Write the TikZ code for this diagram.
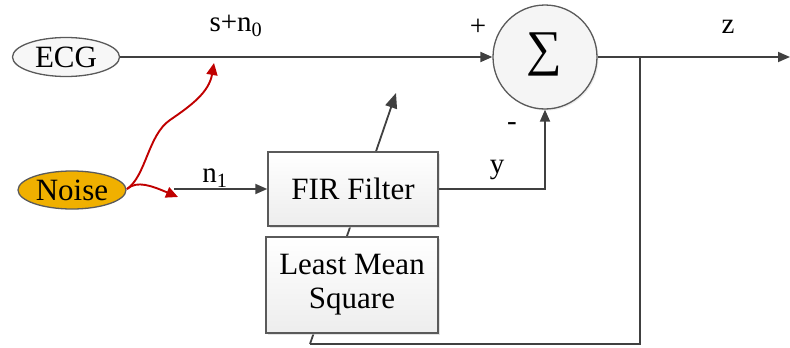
\documentclass[tikz,border=0pt]{standalone}
\usepackage{fontspec}
\setmainfont{Liberation Serif}
\usetikzlibrary{arrows.meta,shapes.geometric,shadows}
\definecolor{lc}{HTML}{404040}
\definecolor{bd}{HTML}{5A5A5A}
\definecolor{redc}{HTML}{C00000}
\definecolor{noisec}{HTML}{F0B000}
\begin{document}
\begin{tikzpicture}[x=1pt,y=-1pt,
  conn/.style={draw=lc,line width=1.8pt,-{Triangle[length=12pt,width=10pt]}},
  plain/.style={draw=lc,line width=1.8pt},
  redarr/.style={draw=redc,line width=1.9pt,-{Triangle[length=12pt,width=11pt]}},
  blk/.style={draw=bd,line width=1.4pt,top color=white,bottom color=gray!14,
     drop shadow={shadow xshift=2pt,shadow yshift=-2pt,fill=gray!35,opacity=0.6},
     font=\fontsize{31}{36}\selectfont,align=center,inner sep=0pt},
  ell/.style={ellipse,draw=bd,line width=1.3pt,inner sep=0pt,
     font=\fontsize{31}{36}\selectfont},
  lab/.style={font=\fontsize{29}{32}\selectfont,inner sep=0pt}]
\useasboundingbox (0,0) rectangle (790,348);
% feedback / adaptation line (behind boxes)
\coordinate (j) at (640,57);
\coordinate (fb) at (310,344);
\coordinate (adapt) at (396,93);
\draw[plain] (j) |- (fb);
\draw[conn,-{Triangle[length=15pt,width=12pt]}] (fb) -- (adapt);
% nodes
\node[ell,fill=gray!6,minimum width=107pt,minimum height=39pt] (ecg) at (66,57) {ECG};
\node[ell,fill=noisec,minimum width=108pt,minimum height=38pt] (noise) at (72,190) {Noise};
\node[circle,draw=bd,line width=1.3pt,fill=gray!8,minimum size=104pt,inner sep=0pt,
   drop shadow={shadow xshift=1.5pt,shadow yshift=-1.5pt,fill=gray!30,opacity=0.5}] (sum) at (545,57) {};
\node[inner sep=0pt,font=\fontsize{50}{54}\selectfont] (sig) at (544,54) {∑};
\node[blk,minimum width=170pt,minimum height=74pt] (fir) at (353,189) {FIR Filter};
\node[blk,minimum width=172pt,minimum height=96pt] (lms) at (352,285) {Least Mean\\[-2pt]Square};
% connectors
\draw[conn] (ecg.east) -- (sum.west);
\coordinate (out) at (790,57);
\draw[conn] (sum.east) -- (out);
\draw[conn] (fir.east) -| (sum.south);
\coordinate (n1s) at (174,189);
\draw[conn] (n1s) -- (fir.west);
% red noise arrows
\coordinate (nsrc) at (127,189);
\coordinate (sn) at (214,63);
\coordinate (nn) at (178,197);
\draw[redarr] (nsrc) .. controls (146,176) and (148,135) .. (170,120)
   .. controls (192,105) and (209,92) .. (sn);
\draw[redarr] (nsrc) .. controls (137,180) and (152,186) .. (nn);
% labels
\node[lab] (l1) at (236,26) {s+n\textsubscript{0}};
\node[lab] (l2) at (478,27) {+};
\node[lab] (l3) at (728,27) {z};
\node[lab] (l4) at (215,178) {n\textsubscript{1}};
\node[lab] (l5) at (497,170) {y};
\node[lab] (l6) at (512,127) {-};
\end{tikzpicture}
\end{document}
